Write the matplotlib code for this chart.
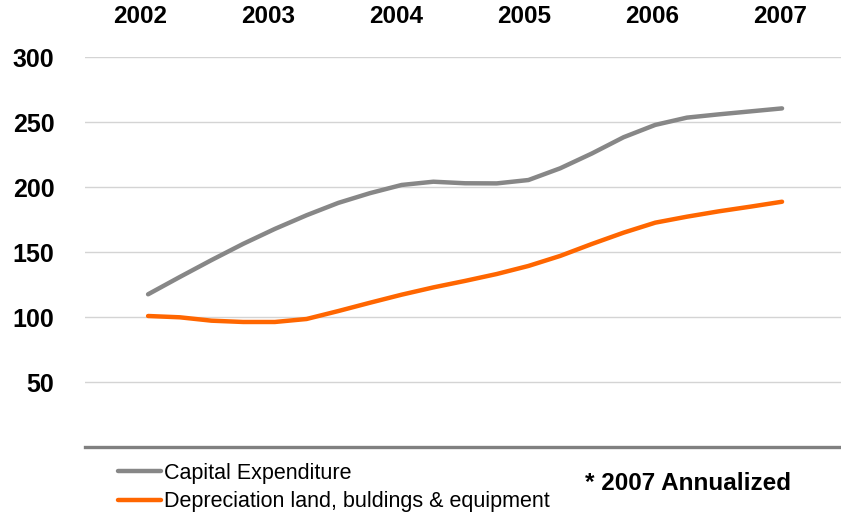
import numpy as np
import matplotlib
matplotlib.use("Agg")
import matplotlib.pyplot as plt

plt.rcParams['font.family'] = ['Liberation Sans', 'DejaVu Sans']

# Quarterly series, first quarter of 2002 through 2007 (annualized)
years = ["2002", "2003", "2004", "2005", "2006", "2007"]
capex = [117.7, 131.0, 144.0, 156.5, 168.0, 178.5, 188.0, 195.5, 201.8, 204.3,
         203.1, 203.0, 205.6, 214.6, 226.0, 238.5, 248.0, 253.6, 256.1, 258.4, 260.7]
depreciation = [101.0, 100.0, 97.4, 96.4, 96.4, 98.7, 104.8, 111.2, 117.4, 123.0,
                128.0, 133.3, 139.5, 147.2, 156.4, 165.1, 172.8, 177.4, 181.5, 185.1, 188.9]
series_names = ["Capital Expenditure", "Depreciation land, buldings & equipment"]
yticks = [50, 100, 150, 200, 250, 300]
footnote = "* 2007 Annualized"

W, H = 841, 515
fig = plt.figure(figsize=(W / 100, H / 100), dpi=100)
ax = fig.add_axes([85 / W, 1 - 447.3 / H, (W - 85) / W, (447.3 - 57.3) / H])

periods = np.arange(len(capex))
l1, = ax.plot(periods, capex, color="#878787", lw=3.2, solid_capstyle="round",
              solid_joinstyle="round", zorder=3)
l2, = ax.plot(periods, depreciation, color="#FF6600", lw=3.2, solid_capstyle="round",
              solid_joinstyle="round", zorder=3)

ax.set_xlim(-1.99, 21.86)
ax.set_ylim(0, 300)
ax.set_yticks(yticks)
ax.set_yticklabels([str(v) for v in yticks], fontsize=18, fontweight="bold")
ax.yaxis.grid(True, color="#d4d4d4", lw=1.0)
ax.set_axisbelow(True)
ax.tick_params(axis="y", length=0, pad=22)

# year labels across the top
ax.xaxis.tick_top()
ax.set_xticks(np.linspace(-0.25, 19.94, len(years)))
ax.set_xticklabels(years, fontsize=17.5, fontweight="bold")
ax.tick_params(axis="x", length=0, pad=21)

for s in ("top", "left", "right"):
    ax.spines[s].set_visible(False)
ax.spines["bottom"].set_color("#808080")
ax.spines["bottom"].set_linewidth(2.4)

fig.legend([l1, l2], series_names, loc="upper left",
           bbox_to_anchor=(118 / W, 1 - 463 / H), frameon=False,
           fontsize=15.5, handlelength=2.0, handletextpad=0.15,
           labelspacing=0.34, borderpad=0, borderaxespad=0)

fig.text(585 / W, 1 - 490 / H, footnote, fontsize=17.5, fontweight="bold",
         ha="left", va="baseline")

fig.savefig("out.png", dpi=100)
